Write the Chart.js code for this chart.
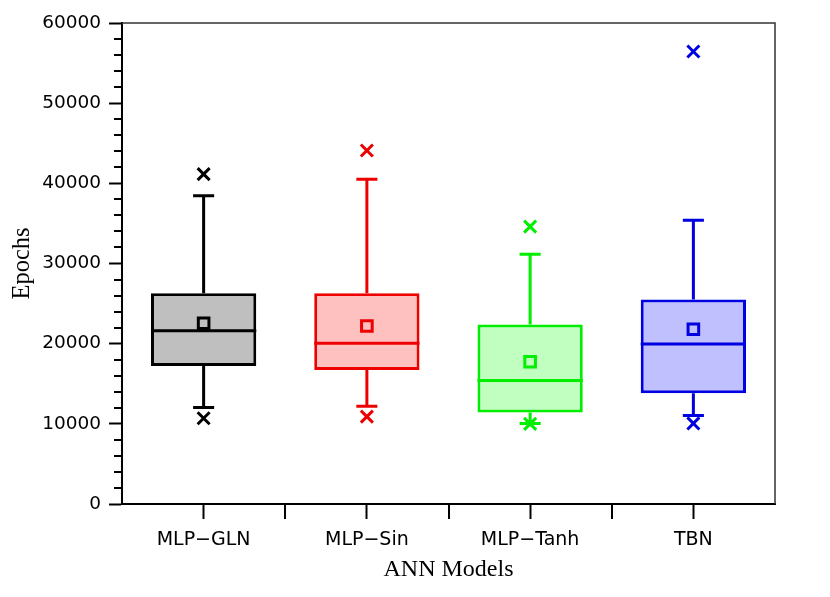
<!DOCTYPE html>
<html>
<head>
<meta charset="utf-8">
<script src="https://cdn.jsdelivr.net/npm/chart.js@4.4.1/dist/chart.umd.min.js"></script>
<style>
  html, body { margin: 0; padding: 0; background: #fff; }
  #wrap { width: 830px; height: 597px; }
</style>
</head>
<body>
<div id="wrap"><canvas id="chart" width="830" height="597"></canvas></div>
<script>
// box plot values
const categories = ["MLP\u2212GLN", "MLP\u2212Sin", "MLP\u2212Tanh", "TBN"];
const q1 = [17200, 16700, 11400, 13800];
const q3 = [26300, 26300, 22400, 25500];
const medians = [21600, 20050, 15400, 19950];
const means = [22550, 22200, 17750, 21800];
const whiskerLow = [12050, 12200, 10050, 11050];
const whiskerHigh = [38450, 40500, 31150, 35400];
const outlierHigh = [41150, 44100, 34600, 56450];
const outlierLow = [10700, 10900, 10000, 10050];
const yTicks = [0, 10000, 20000, 30000, 40000, 50000, 60000];

const strokes = ["#000000", "#ee0000", "#00ee00", "#0000e0"];
const fills = ["#bfbfbf", "#ffc0c0", "#c0ffc0", "#c0c0ff"];

// whiskers, caps, median lines, minor ticks and frame
const boxExtras = {
  id: "boxExtras",
  afterDatasetDraw(chart, args) {
    if (args.meta.type !== "bar") return;
    const ctx = chart.ctx;
    const y = chart.scales.y;
    ctx.save();
    args.meta.data.forEach((bar, i) => {
      const cx = bar.x;
      const half = bar.width / 2;
      const cap = bar.width * 0.1;
      ctx.strokeStyle = strokes[i];
      ctx.lineWidth = 3;
      ctx.beginPath();
      // median
      ctx.moveTo(cx - half, y.getPixelForValue(medians[i]));
      ctx.lineTo(cx + half, y.getPixelForValue(medians[i]));
      // upper whisker
      ctx.moveTo(cx, y.getPixelForValue(q3[i]));
      ctx.lineTo(cx, y.getPixelForValue(whiskerHigh[i]));
      ctx.moveTo(cx - cap, y.getPixelForValue(whiskerHigh[i]));
      ctx.lineTo(cx + cap, y.getPixelForValue(whiskerHigh[i]));
      // lower whisker
      ctx.moveTo(cx, y.getPixelForValue(q1[i]));
      ctx.lineTo(cx, y.getPixelForValue(whiskerLow[i]));
      ctx.moveTo(cx - cap, y.getPixelForValue(whiskerLow[i]));
      ctx.lineTo(cx + cap, y.getPixelForValue(whiskerLow[i]));
      ctx.stroke();
    });
    ctx.restore();
  },
  afterDraw(chart) {
    const ctx = chart.ctx;
    const a = chart.chartArea;
    const x = chart.scales.x, y = chart.scales.y;
    ctx.save();
    ctx.strokeStyle = "#000";
    ctx.lineWidth = 2;
    ctx.beginPath();
    // minor y ticks
    for (let v = 2000; v < 60000; v += 2000) {
      if (v % 10000 === 0) continue;
      const py = Math.round(y.getPixelForValue(v));
      ctx.moveTo(a.left, py);
      ctx.lineTo(a.left - 8, py);
    }
    // x ticks between categories
    for (let i = 0; i < categories.length - 1; i++) {
      const px = Math.round((x.getPixelForValue(i) + x.getPixelForValue(i + 1)) / 2);
      ctx.moveTo(px, a.bottom);
      ctx.lineTo(px, a.bottom + 15);
    }
    ctx.stroke();
    // top and right frame
    ctx.strokeStyle = "#333";
    ctx.lineWidth = 1.5;
    ctx.beginPath();
    ctx.moveTo(a.left, a.top);
    ctx.lineTo(a.right, a.top);
    ctx.lineTo(a.right, a.bottom);
    ctx.stroke();
    ctx.restore();
  }
};

new Chart(document.getElementById("chart").getContext("2d"), {
  type: "bar",
  data: {
    labels: categories,
    datasets: [
      {
        type: "line",
        label: "Mean",
        data: means,
        showLine: false,
        pointStyle: "rect",
        pointRadius: 7.5,
        pointBorderWidth: 3,
        pointBorderColor: strokes,
        pointBackgroundColor: "rgba(0,0,0,0)",
        order: 0
      },
      {
        type: "line",
        label: "Max",
        data: outlierHigh,
        showLine: false,
        pointStyle: "crossRot",
        pointRadius: 8.5,
        pointBorderWidth: 3,
        pointBorderColor: strokes,
        order: 0
      },
      {
        type: "line",
        label: "Min",
        data: outlierLow,
        showLine: false,
        pointStyle: "crossRot",
        pointRadius: 8.5,
        pointBorderWidth: 3,
        pointBorderColor: strokes,
        order: 0
      },
      {
        type: "bar",
        label: "Box",
        data: categories.map((c, i) => [q1[i], q3[i]]),
        backgroundColor: fills,
        borderColor: strokes,
        borderWidth: 3,
        borderSkipped: false,
        barPercentage: 0.645,
        categoryPercentage: 1,
        order: 10
      }
    ]
  },
  options: {
    responsive: false,
    animation: false,
    layout: { padding: { top: 23, right: 55, left: 0, bottom: 0 } },
    plugins: {
      legend: { display: false },
      tooltip: { enabled: false }
    },
    scales: {
      x: {
        type: "category",
        offset: true,
        afterFit: s => { s.height = 93; },
        grid: { display: true, drawOnChartArea: false, offset: false, tickLength: 15, tickWidth: 2, tickColor: "#000" },
        border: { color: "#000", width: 2 },
        ticks: { color: "#000", padding: 10, font: { family: "DejaVu Sans", size: 19 } },
        title: { display: true, text: "ANN Models", color: "#000", padding: { bottom: 13, top: 0 }, font: { family: "Liberation Serif", size: 24 } }
      },
      y: {
        min: 0,
        max: 60000,
        afterFit: s => { s.width = 122; },
        afterBuildTicks: s => { s.ticks = yTicks.map(v => ({ value: v })); },
        grid: { display: true, drawOnChartArea: false, tickLength: 13, tickWidth: 2, tickColor: "#000" },
        border: { color: "#000", width: 2 },
        ticks: { color: "#000", padding: 8, font: { family: "DejaVu Sans", size: 18.5 }, callback: v => String(v) },
        title: { display: true, text: "Epochs", color: "#000", padding: { top: 8, bottom: 0 }, font: { family: "Liberation Serif", size: 24.5 } }
      }
    }
  },
  plugins: [boxExtras]
});
</script>
</body>
</html>
